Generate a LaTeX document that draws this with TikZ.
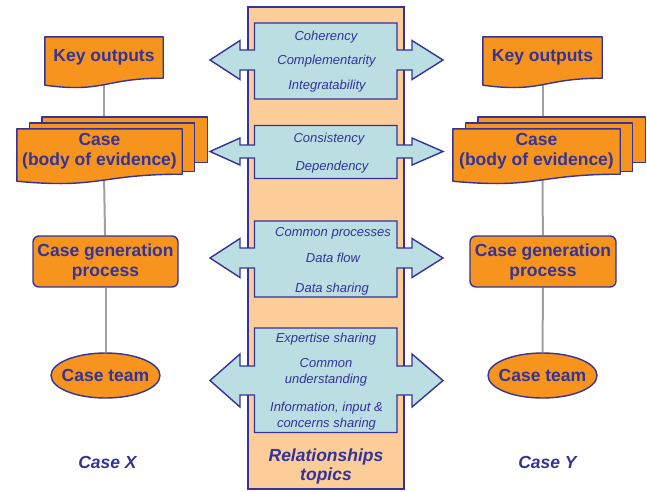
\documentclass[tikz,border=0pt]{standalone}
\usepackage{fontspec}
\setmainfont{Liberation Sans}
\usetikzlibrary{calc,shapes.geometric}

\definecolor{casefill}{RGB}{247,148,29}
\definecolor{caseline}{RGB}{51,51,153}
\definecolor{topicband}{RGB}{252,204,153}
\definecolor{topicfill}{RGB}{186,222,226}
\definecolor{linkgray}{RGB}{160,160,160}

\pgfdeclarelayer{links}
\pgfdeclarelayer{shapes}
\pgfsetlayers{links,shapes,main}

\tikzset{
	casefont/.style={font=\fontsize{17.5}{20}\selectfont\bfseries, text=caseline},
	topicfont/.style={font=\fontsize{13}{15.5}\selectfont\itshape, text=caseline},
	outline/.style={draw=caseline, line width=1.4pt, fill=casefill, line join=round},
	docbox/.style={casefont, align=center, inner sep=0pt},
	procbox/.style={casefont, align=center, outline, rounded corners=6pt, minimum width=145pt, minimum height=51pt, inner sep=0pt},
	teambox/.style={casefont, outline, ellipse, minimum width=109pt, minimum height=45pt, inner xsep=-5.5pt, inner ysep=0pt},
	topicarrow/.style={draw=caseline, line width=1.4pt, fill=topicfill, line join=miter},
	link/.style={draw=linkgray, line width=2pt},
}

% document outline with wavy bottom, drawn under a node
\newcommand\docshape[1]{%
	\draw[outline] (#1.north west) -- (#1.north east) -- (#1.south east)
		.. controls (#1.south) and ($(#1.south)+(0,-15pt)$) .. ($(#1.south west)+(0,-7pt)$) -- cycle;}
% three stacked documents
\newcommand\multidoc[1]{%
	\draw[outline] ($(#1.north west)+(25pt,12pt)$) rectangle ($(#1.south east)+(25pt,12pt)$);
	\draw[outline] ($(#1.north west)+(12.5pt,6pt)$) rectangle ($(#1.south east)+(12.5pt,3pt)$);
	\docshape{#1}}

\begin{document}
\begin{tikzpicture}[x=1pt,y=-1pt]
	\useasboundingbox (0,0) rectangle (647,491);

	% relationships band
	\draw[draw=caseline, line width=1.4pt, fill=topicband] (248,7) rectangle (404,489);

	\foreach \ytip/\ytop/\ybot/\hhead/\hshaft in {60/23/99/19.5/10, 151.5/125.5/178.5/13.5/6.5, 258/221/297/19.5/10, 380.5/328/432.5/26.5/14.5}
		\draw[topicarrow] (210,\ytip) -- (240,{\ytip-\hhead}) -- (240,{\ytip-\hshaft}) -- (254.5,{\ytip-\hshaft})
			-- (254.5,\ytop) -- (397,\ytop) -- (397,{\ytip-\hshaft}) -- (412,{\ytip-\hshaft}) -- (412,{\ytip-\hhead})
			-- (443,\ytip) -- (412,{\ytip+\hhead}) -- (412,{\ytip+\hshaft}) -- (397,{\ytip+\hshaft}) -- (397,\ybot)
			-- (254.5,\ybot) -- (254.5,{\ytip+\hshaft}) -- (240,{\ytip+\hshaft}) -- (240,{\ytip+\hhead}) -- cycle;

	\node[topicfont, anchor=base] (coh) at (326,40.5) {Coherency};
	\node[topicfont, anchor=base] (compl) at (326.5,64.5) {Complementarity};
	\node[topicfont, anchor=base] (integ) at (327,89.5) {Integratability};
	\node[topicfont, anchor=base] (consist) at (329,142.5) {Consistency};
	\node[topicfont, anchor=base] (depend) at (332,170.5) {Dependency};
	\node[topicfont, anchor=base] (commproc) at (333,236) {Common processes};
	\node[topicfont, anchor=base] (dflow) at (333,262) {Data flow};
	\node[topicfont, anchor=base] (dshare) at (332,292) {Data sharing};
	\node[topicfont, anchor=base] (expert) at (326,342.5) {Expertise sharing};
	% two-line nodes sit on the baseline of their last line
	\node[topicfont, anchor=base, align=center] (commund) at (326,383) {Common\\understanding};
	\node[topicfont, anchor=base, align=center] (infoshare) at (326.5,427) {Information, input \&\\concerns sharing};
	\node[casefont, anchor=base, align=center, font=\fontsize{17.5}{19}\selectfont\bfseries\itshape] (reltopics) at (326,480) {Relationships\\topics};

	% case X
	\node[docbox, minimum width=118pt, minimum height=41pt] (keyX) at (104,57.5) {Key outputs};
	\node[docbox, minimum width=165pt, minimum height=45pt] (caseX) at (99.5,151.5) {Case\\(body of evidence)};
	\node[procbox] (procX) at (105.5,261.5) {Case generation\\process};
	\node[teambox] (teamX) at (105.5,375.5) {Case team};
	\node[casefont, font=\fontsize{17.5}{20}\selectfont\bfseries\itshape, anchor=base] (labelX) at (107.5,468) {Case X};

	% case Y
	\node[docbox, minimum width=119pt, minimum height=41pt] (keyY) at (542.5,57.5) {Key outputs};
	\node[docbox, minimum width=167pt, minimum height=45pt] (caseY) at (536.5,151.5) {Case\\(body of evidence)};
	\node[procbox, minimum width=146pt] (procY) at (543,261.5) {Case generation\\process};
	\node[teambox] (teamY) at (542.5,375.5) {Case team};
	\node[casefont, font=\fontsize{17.5}{20}\selectfont\bfseries\itshape, anchor=base] (labelY) at (547.5,468) {Case Y};

	\begin{pgfonlayer}{shapes}
		\docshape{keyX}
		\multidoc{caseX}
		\docshape{keyY}
		\multidoc{caseY}
	\end{pgfonlayer}

	\begin{pgfonlayer}{links}
		\path[link] (keyX) edge (keyX |- caseX.north);
		\path[link] (keyX |- caseX.south) edge (procX);
		\path[link] (procX) edge (teamX);
		\path[link] (keyY) edge (keyY |- caseY.north);
		\path[link] (keyY |- caseY.south) edge (procY);
		\path[link] (procY) edge (teamY);
	\end{pgfonlayer}
\end{tikzpicture}
\end{document}
